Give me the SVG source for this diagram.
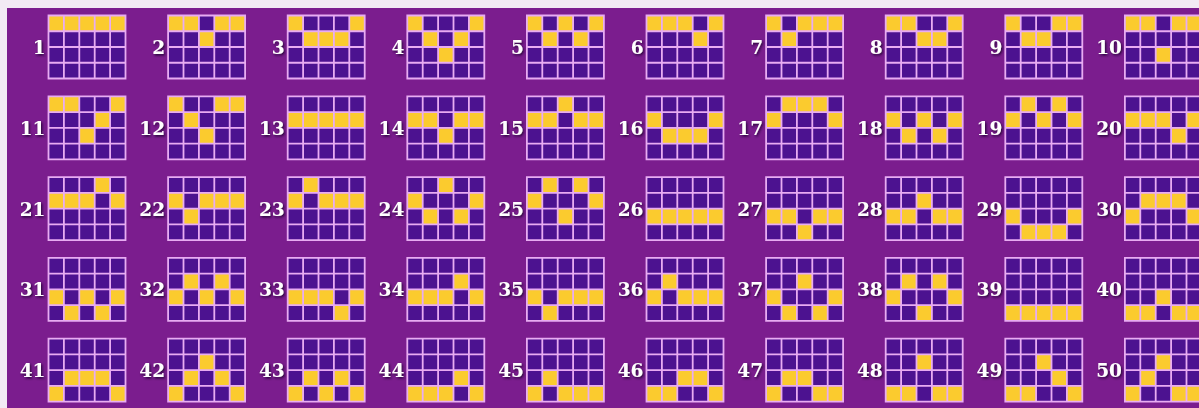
<svg xmlns="http://www.w3.org/2000/svg" xmlns:xlink="http://www.w3.org/1999/xlink" width="1199" height="408" viewBox="0 0 1199 408">
<style>
.n{font-family:"DejaVu Serif","Liberation Serif",serif;font-weight:bold;font-size:18.5px;fill:#ffffff;text-anchor:end;filter:url(#sh)}
.gl{fill:none;stroke:#E8ACF2;stroke-width:1.8}
.gb{fill:#4C1290}
.yc{fill:#FBCB2E}
</style>
<defs>
<filter id="sh" x="-30%" y="-30%" width="160%" height="160%"><feDropShadow dx="1.2" dy="1.5" stdDeviation="0.8" flood-color="#1A0033" flood-opacity="0.9"/></filter>
<rect id="bg" class="gb" x="0" y="0" width="77" height="63"/>
<rect id="y" class="yc" x="0" y="0" width="15.4" height="15.75"/>
<path id="ln" class="gl" d="M0,0H77V63H0Z M15.4,0V63 M30.8,0V63 M46.2,0V63 M61.6,0V63 M0,15.75H77 M0,31.5H77 M0,47.25H77"/>
</defs>
<rect x="0" y="0" width="1199" height="408" fill="#F2EAF4"/>
<rect x="7" y="8" width="1192" height="400" fill="#7B1D8E"/>
<g id="connectors"></g>

<g id="line1" transform="translate(48.5,15.5)"><text class="n" x="-3" y="38.5">1</text><use href="#bg"/><use href="#y" x="0" y="0"/><use href="#y" x="15.4" y="0"/><use href="#y" x="30.8" y="0"/><use href="#y" x="46.2" y="0"/><use href="#y" x="61.6" y="0"/><use href="#ln"/></g>
<g id="line2" transform="translate(168.1,15.5)"><text class="n" x="-3" y="38.5">2</text><use href="#bg"/><use href="#y" x="0" y="0"/><use href="#y" x="15.4" y="0"/><use href="#y" x="30.8" y="15.75"/><use href="#y" x="46.2" y="0"/><use href="#y" x="61.6" y="0"/><use href="#ln"/></g>
<g id="line3" transform="translate(287.7,15.5)"><text class="n" x="-3" y="38.5">3</text><use href="#bg"/><use href="#y" x="0" y="0"/><use href="#y" x="15.4" y="15.75"/><use href="#y" x="30.8" y="15.75"/><use href="#y" x="46.2" y="15.75"/><use href="#y" x="61.6" y="0"/><use href="#ln"/></g>
<g id="line4" transform="translate(407.3,15.5)"><text class="n" x="-3" y="38.5">4</text><use href="#bg"/><use href="#y" x="0" y="0"/><use href="#y" x="15.4" y="15.75"/><use href="#y" x="30.8" y="31.5"/><use href="#y" x="46.2" y="15.75"/><use href="#y" x="61.6" y="0"/><use href="#ln"/></g>
<g id="line5" transform="translate(526.9,15.5)"><text class="n" x="-3" y="38.5">5</text><use href="#bg"/><use href="#y" x="0" y="0"/><use href="#y" x="15.4" y="15.75"/><use href="#y" x="30.8" y="0"/><use href="#y" x="46.2" y="15.75"/><use href="#y" x="61.6" y="0"/><use href="#ln"/></g>
<g id="line6" transform="translate(646.5,15.5)"><text class="n" x="-3" y="38.5">6</text><use href="#bg"/><use href="#y" x="0" y="0"/><use href="#y" x="15.4" y="0"/><use href="#y" x="30.8" y="0"/><use href="#y" x="46.2" y="15.75"/><use href="#y" x="61.6" y="0"/><use href="#ln"/></g>
<g id="line7" transform="translate(766.1,15.5)"><text class="n" x="-3" y="38.5">7</text><use href="#bg"/><use href="#y" x="0" y="0"/><use href="#y" x="15.4" y="15.75"/><use href="#y" x="30.8" y="0"/><use href="#y" x="46.2" y="0"/><use href="#y" x="61.6" y="0"/><use href="#ln"/></g>
<g id="line8" transform="translate(885.7,15.5)"><text class="n" x="-3" y="38.5">8</text><use href="#bg"/><use href="#y" x="0" y="0"/><use href="#y" x="15.4" y="0"/><use href="#y" x="30.8" y="15.75"/><use href="#y" x="46.2" y="15.75"/><use href="#y" x="61.6" y="0"/><use href="#ln"/></g>
<g id="line9" transform="translate(1005.3,15.5)"><text class="n" x="-3" y="38.5">9</text><use href="#bg"/><use href="#y" x="0" y="0"/><use href="#y" x="15.4" y="15.75"/><use href="#y" x="30.8" y="15.75"/><use href="#y" x="46.2" y="0"/><use href="#y" x="61.6" y="0"/><use href="#ln"/></g>
<g id="line10" transform="translate(1124.9,15.5)"><text class="n" x="-3" y="38.5">10</text><use href="#bg"/><use href="#y" x="0" y="0"/><use href="#y" x="15.4" y="0"/><use href="#y" x="30.8" y="31.5"/><use href="#y" x="46.2" y="0"/><use href="#y" x="61.6" y="0"/><use href="#ln"/></g>

<g id="line11" transform="translate(48.5,96.3)"><text class="n" x="-3" y="38.5">11</text><use href="#bg"/><use href="#y" x="0" y="0"/><use href="#y" x="15.4" y="0"/><use href="#y" x="30.8" y="31.5"/><use href="#y" x="46.2" y="15.75"/><use href="#y" x="61.6" y="0"/><use href="#ln"/></g>
<g id="line12" transform="translate(168.1,96.3)"><text class="n" x="-3" y="38.5">12</text><use href="#bg"/><use href="#y" x="0" y="0"/><use href="#y" x="15.4" y="15.75"/><use href="#y" x="30.8" y="31.5"/><use href="#y" x="46.2" y="0"/><use href="#y" x="61.6" y="0"/><use href="#ln"/></g>
<g id="line13" transform="translate(287.7,96.3)"><text class="n" x="-3" y="38.5">13</text><use href="#bg"/><use href="#y" x="0" y="15.75"/><use href="#y" x="15.4" y="15.75"/><use href="#y" x="30.8" y="15.75"/><use href="#y" x="46.2" y="15.75"/><use href="#y" x="61.6" y="15.75"/><use href="#ln"/></g>
<g id="line14" transform="translate(407.3,96.3)"><text class="n" x="-3" y="38.5">14</text><use href="#bg"/><use href="#y" x="0" y="15.75"/><use href="#y" x="15.4" y="15.75"/><use href="#y" x="30.8" y="31.5"/><use href="#y" x="46.2" y="15.75"/><use href="#y" x="61.6" y="15.75"/><use href="#ln"/></g>
<g id="line15" transform="translate(526.9,96.3)"><text class="n" x="-3" y="38.5">15</text><use href="#bg"/><use href="#y" x="0" y="15.75"/><use href="#y" x="15.4" y="15.75"/><use href="#y" x="30.8" y="0"/><use href="#y" x="46.2" y="15.75"/><use href="#y" x="61.6" y="15.75"/><use href="#ln"/></g>
<g id="line16" transform="translate(646.5,96.3)"><text class="n" x="-3" y="38.5">16</text><use href="#bg"/><use href="#y" x="0" y="15.75"/><use href="#y" x="15.4" y="31.5"/><use href="#y" x="30.8" y="31.5"/><use href="#y" x="46.2" y="31.5"/><use href="#y" x="61.6" y="15.75"/><use href="#ln"/></g>
<g id="line17" transform="translate(766.1,96.3)"><text class="n" x="-3" y="38.5">17</text><use href="#bg"/><use href="#y" x="0" y="15.75"/><use href="#y" x="15.4" y="0"/><use href="#y" x="30.8" y="0"/><use href="#y" x="46.2" y="0"/><use href="#y" x="61.6" y="15.75"/><use href="#ln"/></g>
<g id="line18" transform="translate(885.7,96.3)"><text class="n" x="-3" y="38.5">18</text><use href="#bg"/><use href="#y" x="0" y="15.75"/><use href="#y" x="15.4" y="31.5"/><use href="#y" x="30.8" y="15.75"/><use href="#y" x="46.2" y="31.5"/><use href="#y" x="61.6" y="15.75"/><use href="#ln"/></g>
<g id="line19" transform="translate(1005.3,96.3)"><text class="n" x="-3" y="38.5">19</text><use href="#bg"/><use href="#y" x="0" y="15.75"/><use href="#y" x="15.4" y="0"/><use href="#y" x="30.8" y="15.75"/><use href="#y" x="46.2" y="0"/><use href="#y" x="61.6" y="15.75"/><use href="#ln"/></g>
<g id="line20" transform="translate(1124.9,96.3)"><text class="n" x="-3" y="38.5">20</text><use href="#bg"/><use href="#y" x="0" y="15.75"/><use href="#y" x="15.4" y="15.75"/><use href="#y" x="30.8" y="15.75"/><use href="#y" x="46.2" y="31.5"/><use href="#y" x="61.6" y="15.75"/><use href="#ln"/></g>

<g id="line21" transform="translate(48.5,177.1)"><text class="n" x="-3" y="38.5">21</text><use href="#bg"/><use href="#y" x="0" y="15.75"/><use href="#y" x="15.4" y="15.75"/><use href="#y" x="30.8" y="15.75"/><use href="#y" x="46.2" y="0"/><use href="#y" x="61.6" y="15.75"/><use href="#ln"/></g>
<g id="line22" transform="translate(168.1,177.1)"><text class="n" x="-3" y="38.5">22</text><use href="#bg"/><use href="#y" x="0" y="15.75"/><use href="#y" x="15.4" y="31.5"/><use href="#y" x="30.8" y="15.75"/><use href="#y" x="46.2" y="15.75"/><use href="#y" x="61.6" y="15.75"/><use href="#ln"/></g>
<g id="line23" transform="translate(287.7,177.1)"><text class="n" x="-3" y="38.5">23</text><use href="#bg"/><use href="#y" x="0" y="15.75"/><use href="#y" x="15.4" y="0"/><use href="#y" x="30.8" y="15.75"/><use href="#y" x="46.2" y="15.75"/><use href="#y" x="61.6" y="15.75"/><use href="#ln"/></g>
<g id="line24" transform="translate(407.3,177.1)"><text class="n" x="-3" y="38.5">24</text><use href="#bg"/><use href="#y" x="0" y="15.75"/><use href="#y" x="15.4" y="31.5"/><use href="#y" x="30.8" y="0"/><use href="#y" x="46.2" y="31.5"/><use href="#y" x="61.6" y="15.75"/><use href="#ln"/></g>
<g id="line25" transform="translate(526.9,177.1)"><text class="n" x="-3" y="38.5">25</text><use href="#bg"/><use href="#y" x="0" y="15.75"/><use href="#y" x="15.4" y="0"/><use href="#y" x="30.8" y="31.5"/><use href="#y" x="46.2" y="0"/><use href="#y" x="61.6" y="15.75"/><use href="#ln"/></g>
<g id="line26" transform="translate(646.5,177.1)"><text class="n" x="-3" y="38.5">26</text><use href="#bg"/><use href="#y" x="0" y="31.5"/><use href="#y" x="15.4" y="31.5"/><use href="#y" x="30.8" y="31.5"/><use href="#y" x="46.2" y="31.5"/><use href="#y" x="61.6" y="31.5"/><use href="#ln"/></g>
<g id="line27" transform="translate(766.1,177.1)"><text class="n" x="-3" y="38.5">27</text><use href="#bg"/><use href="#y" x="0" y="31.5"/><use href="#y" x="15.4" y="31.5"/><use href="#y" x="30.8" y="47.25"/><use href="#y" x="46.2" y="31.5"/><use href="#y" x="61.6" y="31.5"/><use href="#ln"/></g>
<g id="line28" transform="translate(885.7,177.1)"><text class="n" x="-3" y="38.5">28</text><use href="#bg"/><use href="#y" x="0" y="31.5"/><use href="#y" x="15.4" y="31.5"/><use href="#y" x="30.8" y="15.75"/><use href="#y" x="46.2" y="31.5"/><use href="#y" x="61.6" y="31.5"/><use href="#ln"/></g>
<g id="line29" transform="translate(1005.3,177.1)"><text class="n" x="-3" y="38.5">29</text><use href="#bg"/><use href="#y" x="0" y="31.5"/><use href="#y" x="15.4" y="47.25"/><use href="#y" x="30.8" y="47.25"/><use href="#y" x="46.2" y="47.25"/><use href="#y" x="61.6" y="31.5"/><use href="#ln"/></g>
<g id="line30" transform="translate(1124.9,177.1)"><text class="n" x="-3" y="38.5">30</text><use href="#bg"/><use href="#y" x="0" y="31.5"/><use href="#y" x="15.4" y="15.75"/><use href="#y" x="30.8" y="15.75"/><use href="#y" x="46.2" y="15.75"/><use href="#y" x="61.6" y="31.5"/><use href="#ln"/></g>

<g id="line31" transform="translate(48.5,257.9)"><text class="n" x="-3" y="38.5">31</text><use href="#bg"/><use href="#y" x="0" y="31.5"/><use href="#y" x="15.4" y="47.25"/><use href="#y" x="30.8" y="31.5"/><use href="#y" x="46.2" y="47.25"/><use href="#y" x="61.6" y="31.5"/><use href="#ln"/></g>
<g id="line32" transform="translate(168.1,257.9)"><text class="n" x="-3" y="38.5">32</text><use href="#bg"/><use href="#y" x="0" y="31.5"/><use href="#y" x="15.4" y="15.75"/><use href="#y" x="30.8" y="31.5"/><use href="#y" x="46.2" y="15.75"/><use href="#y" x="61.6" y="31.5"/><use href="#ln"/></g>
<g id="line33" transform="translate(287.7,257.9)"><text class="n" x="-3" y="38.5">33</text><use href="#bg"/><use href="#y" x="0" y="31.5"/><use href="#y" x="15.4" y="31.5"/><use href="#y" x="30.8" y="31.5"/><use href="#y" x="46.2" y="47.25"/><use href="#y" x="61.6" y="31.5"/><use href="#ln"/></g>
<g id="line34" transform="translate(407.3,257.9)"><text class="n" x="-3" y="38.5">34</text><use href="#bg"/><use href="#y" x="0" y="31.5"/><use href="#y" x="15.4" y="31.5"/><use href="#y" x="30.8" y="31.5"/><use href="#y" x="46.2" y="15.75"/><use href="#y" x="61.6" y="31.5"/><use href="#ln"/></g>
<g id="line35" transform="translate(526.9,257.9)"><text class="n" x="-3" y="38.5">35</text><use href="#bg"/><use href="#y" x="0" y="31.5"/><use href="#y" x="15.4" y="47.25"/><use href="#y" x="30.8" y="31.5"/><use href="#y" x="46.2" y="31.5"/><use href="#y" x="61.6" y="31.5"/><use href="#ln"/></g>
<g id="line36" transform="translate(646.5,257.9)"><text class="n" x="-3" y="38.5">36</text><use href="#bg"/><use href="#y" x="0" y="31.5"/><use href="#y" x="15.4" y="15.75"/><use href="#y" x="30.8" y="31.5"/><use href="#y" x="46.2" y="31.5"/><use href="#y" x="61.6" y="31.5"/><use href="#ln"/></g>
<g id="line37" transform="translate(766.1,257.9)"><text class="n" x="-3" y="38.5">37</text><use href="#bg"/><use href="#y" x="0" y="31.5"/><use href="#y" x="15.4" y="47.25"/><use href="#y" x="30.8" y="15.75"/><use href="#y" x="46.2" y="47.25"/><use href="#y" x="61.6" y="31.5"/><use href="#ln"/></g>
<g id="line38" transform="translate(885.7,257.9)"><text class="n" x="-3" y="38.5">38</text><use href="#bg"/><use href="#y" x="0" y="31.5"/><use href="#y" x="15.4" y="15.75"/><use href="#y" x="30.8" y="47.25"/><use href="#y" x="46.2" y="15.75"/><use href="#y" x="61.6" y="31.5"/><use href="#ln"/></g>
<g id="line39" transform="translate(1005.3,257.9)"><text class="n" x="-3" y="38.5">39</text><use href="#bg"/><use href="#y" x="0" y="47.25"/><use href="#y" x="15.4" y="47.25"/><use href="#y" x="30.8" y="47.25"/><use href="#y" x="46.2" y="47.25"/><use href="#y" x="61.6" y="47.25"/><use href="#ln"/></g>
<g id="line40" transform="translate(1124.9,257.9)"><text class="n" x="-3" y="38.5">40</text><use href="#bg"/><use href="#y" x="0" y="47.25"/><use href="#y" x="15.4" y="47.25"/><use href="#y" x="30.8" y="31.5"/><use href="#y" x="46.2" y="47.25"/><use href="#y" x="61.6" y="47.25"/><use href="#ln"/></g>

<g id="line41" transform="translate(48.5,338.7)"><text class="n" x="-3" y="38.5">41</text><use href="#bg"/><use href="#y" x="0" y="47.25"/><use href="#y" x="15.4" y="31.5"/><use href="#y" x="30.8" y="31.5"/><use href="#y" x="46.2" y="31.5"/><use href="#y" x="61.6" y="47.25"/><use href="#ln"/></g>
<g id="line42" transform="translate(168.1,338.7)"><text class="n" x="-3" y="38.5">42</text><use href="#bg"/><use href="#y" x="0" y="47.25"/><use href="#y" x="15.4" y="31.5"/><use href="#y" x="30.8" y="15.75"/><use href="#y" x="46.2" y="31.5"/><use href="#y" x="61.6" y="47.25"/><use href="#ln"/></g>
<g id="line43" transform="translate(287.7,338.7)"><text class="n" x="-3" y="38.5">43</text><use href="#bg"/><use href="#y" x="0" y="47.25"/><use href="#y" x="15.4" y="31.5"/><use href="#y" x="30.8" y="47.25"/><use href="#y" x="46.2" y="31.5"/><use href="#y" x="61.6" y="47.25"/><use href="#ln"/></g>
<g id="line44" transform="translate(407.3,338.7)"><text class="n" x="-3" y="38.5">44</text><use href="#bg"/><use href="#y" x="0" y="47.25"/><use href="#y" x="15.4" y="47.25"/><use href="#y" x="30.8" y="47.25"/><use href="#y" x="46.2" y="31.5"/><use href="#y" x="61.6" y="47.25"/><use href="#ln"/></g>
<g id="line45" transform="translate(526.9,338.7)"><text class="n" x="-3" y="38.5">45</text><use href="#bg"/><use href="#y" x="0" y="47.25"/><use href="#y" x="15.4" y="31.5"/><use href="#y" x="30.8" y="47.25"/><use href="#y" x="46.2" y="47.25"/><use href="#y" x="61.6" y="47.25"/><use href="#ln"/></g>
<g id="line46" transform="translate(646.5,338.7)"><text class="n" x="-3" y="38.5">46</text><use href="#bg"/><use href="#y" x="0" y="47.25"/><use href="#y" x="15.4" y="47.25"/><use href="#y" x="30.8" y="31.5"/><use href="#y" x="46.2" y="31.5"/><use href="#y" x="61.6" y="47.25"/><use href="#ln"/></g>
<g id="line47" transform="translate(766.1,338.7)"><text class="n" x="-3" y="38.5">47</text><use href="#bg"/><use href="#y" x="0" y="47.25"/><use href="#y" x="15.4" y="31.5"/><use href="#y" x="30.8" y="31.5"/><use href="#y" x="46.2" y="47.25"/><use href="#y" x="61.6" y="47.25"/><use href="#ln"/></g>
<g id="line48" transform="translate(885.7,338.7)"><text class="n" x="-3" y="38.5">48</text><use href="#bg"/><use href="#y" x="0" y="47.25"/><use href="#y" x="15.4" y="47.25"/><use href="#y" x="30.8" y="15.75"/><use href="#y" x="46.2" y="47.25"/><use href="#y" x="61.6" y="47.25"/><use href="#ln"/></g>
<g id="line49" transform="translate(1005.3,338.7)"><text class="n" x="-3" y="38.5">49</text><use href="#bg"/><use href="#y" x="0" y="47.25"/><use href="#y" x="15.4" y="47.25"/><use href="#y" x="30.8" y="15.75"/><use href="#y" x="46.2" y="31.5"/><use href="#y" x="61.6" y="47.25"/><use href="#ln"/></g>
<g id="line50" transform="translate(1124.9,338.7)"><text class="n" x="-3" y="38.5">50</text><use href="#bg"/><use href="#y" x="0" y="47.25"/><use href="#y" x="15.4" y="31.5"/><use href="#y" x="30.8" y="15.75"/><use href="#y" x="46.2" y="47.25"/><use href="#y" x="61.6" y="47.25"/><use href="#ln"/></g>
</svg>
